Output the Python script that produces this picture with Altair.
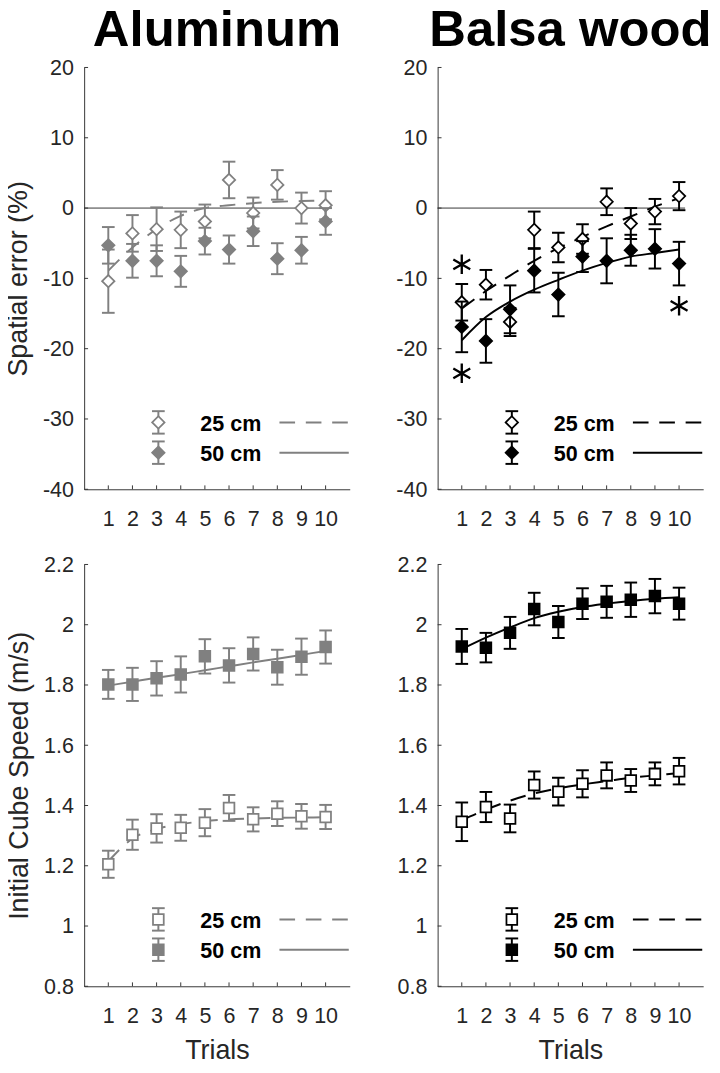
import altair as alt
import pandas as pd

# ---------------- data ----------------
TRIALS = list(range(1, 11))
COLUMN_TITLES = ["Aluminum", "Balsa wood"]
Y_TITLES = ["Spatial error (%)", "Initial Cube Speed (m/s)"]
X_TITLE = "Trials"
LEGEND_LABELS = ["25 cm", "50 cm"]
Y_TICKS_ERR = [-40, -30, -20, -10, 0, 10, 20]
Y_TICKS_SPD = [0.8, 1.0, 1.2, 1.4, 1.6, 1.8, 2.0, 2.2]
ZERO_LINE_X = [0, 10.25]

# Spatial error (%) - Aluminum
AL_ERR_25 = [-10.4, -3.6, -3.0, -3.1, -1.9, 4.0, -0.7, 3.3, 0.0, 0.4]
AL_ERR_25_SE = [4.5, 2.6, 3.1, 2.6, 2.4, 2.6, 2.2, 2.1, 2.2, 2.0]
AL_ERR_50 = [-5.3, -7.5, -7.5, -9.0, -4.7, -5.9, -3.3, -7.2, -6.0, -1.9]
AL_ERR_50_SE = [2.6, 2.4, 2.2, 2.2, 1.9, 2.0, 2.1, 2.2, 1.9, 1.9]
AL_ERR_25_FIT = [-8.9, -5.6, -3.0, -1.1, 0.0, 0.4, 0.7, 0.9, 1.0, 1.1]

# Spatial error (%) - Balsa wood
BA_ERR_25 = [-13.4, -10.9, -16.2, -3.1, -5.6, -4.4, 0.9, -2.2, -0.5, 1.7]
BA_ERR_25_SE = [2.6, 2.1, 2.0, 2.6, 2.1, 2.1, 1.9, 2.2, 1.8, 2.0]
BA_ERR_50 = [-16.9, -18.9, -14.4, -8.9, -12.3, -6.9, -7.5, -6.0, -5.8, -7.9]
BA_ERR_50_SE = [3.6, 3.1, 3.4, 3.1, 3.1, 2.2, 3.2, 2.2, 2.8, 3.1]
BA_ERR_25_FIT = [-14.3, -11.8, -9.6, -7.5, -5.7, -4.1, -2.6, -1.2, 0.2, 1.4]
BA_ERR_50_FIT = [-18.8, -15.5, -13.3, -11.6, -10.2, -8.9, -7.8, -6.9, -6.4, -5.9]
STAR_TRIALS = [1, 1, 10]
STAR_VALUES = [-8.0, -23.5, -13.9]

# Initial cube speed (m/s) - Aluminum
AL_SPD_25 = [1.205, 1.303, 1.324, 1.326, 1.343, 1.392, 1.354, 1.373, 1.364, 1.362]
AL_SPD_25_SE = [0.045, 0.050, 0.047, 0.043, 0.045, 0.043, 0.040, 0.041, 0.041, 0.040]
AL_SPD_50 = [1.802, 1.802, 1.822, 1.835, 1.895, 1.865, 1.903, 1.859, 1.894, 1.926]
AL_SPD_50_SE = [0.048, 0.055, 0.057, 0.060, 0.057, 0.057, 0.055, 0.058, 0.060, 0.055]
AL_SPD_25_FIT = [1.215, 1.290, 1.322, 1.338, 1.348, 1.354, 1.357, 1.359, 1.360, 1.361]
AL_SPD_50_FIT = [1.798, 1.811, 1.824, 1.836, 1.849, 1.862, 1.875, 1.887, 1.900, 1.913]

# Initial cube speed (m/s) - Balsa wood
BA_SPD_25 = [1.346, 1.395, 1.357, 1.468, 1.446, 1.472, 1.500, 1.483, 1.505, 1.514]
BA_SPD_25_SE = [0.064, 0.050, 0.046, 0.045, 0.046, 0.045, 0.043, 0.038, 0.038, 0.044]
BA_SPD_50 = [1.928, 1.924, 1.973, 2.052, 2.009, 2.070, 2.076, 2.083, 2.095, 2.070]
BA_SPD_50_SE = [0.058, 0.049, 0.053, 0.054, 0.053, 0.051, 0.053, 0.057, 0.057, 0.053]
BA_SPD_25_FIT = [1.351, 1.386, 1.416, 1.440, 1.457, 1.470, 1.481, 1.492, 1.500, 1.508]
BA_SPD_50_FIT = [1.919, 1.957, 1.991, 2.022, 2.043, 2.059, 2.070, 2.079, 2.086, 2.091]

# ---------------- style ----------------
GRAY = "#808080"
BLACK = "#000000"
AXIS_COLOR = "#333333"
TEXT_COLOR = "#262626"
FONT = "Liberation Sans"
W, H = 272, 432
DASH = [16, 11]
STAR_SHAPE = "M0,-1L0,1M-0.866,-0.5L0.866,0.5M-0.866,0.5L0.866,-0.5"
LEG_ROWS = [363.5, 394.5]
ONE = pd.DataFrame({"k": [0]})


def series_df(means, ses):
    return pd.DataFrame({
        "trial": TRIALS,
        "mean": means,
        "lo": [m - s for m, s in zip(means, ses)],
        "hi": [m + s for m, s in zip(means, ses)],
    })


def panel(yticks, color, shape, msize, s25, s50, fit25, fit50,
          title=None, ytitle=None, xtitle=None, zero=False, stars=False):
    xs = alt.Scale(domain=[0, 11], nice=False, zero=False)
    ys = alt.Scale(domain=[yticks[0], yticks[-1]], nice=False, zero=False)
    xaxis = alt.Axis(values=TRIALS, title=xtitle, labelExpr="'' + datum.value",
                     labelOverlap=False, labelFlush=False)
    yaxis = alt.Axis(values=yticks, title=ytitle, labelExpr="'' + datum.value",
                     labelOverlap=False, labelFlush=False)

    def X(f="trial"):
        return alt.X(f"{f}:Q", scale=xs, axis=xaxis)

    def Y(f):
        return alt.Y(f"{f}:Q", scale=ys, axis=yaxis)

    layers = []
    # inward ticks
    layers.append(alt.Chart(pd.DataFrame({"trial": TRIALS})).mark_rule(
        color=AXIS_COLOR, strokeWidth=1).encode(
        x=X(), y=alt.value(H), y2=alt.value(H - 4)))
    layers.append(alt.Chart(pd.DataFrame({"v": yticks})).mark_rule(
        color=AXIS_COLOR, strokeWidth=1).encode(
        y=Y("v"), x=alt.value(0), x2=alt.value(4)))
    if zero:
        layers.append(alt.Chart(pd.DataFrame({
            "x0": [ZERO_LINE_X[0]], "x1": [ZERO_LINE_X[1]], "y0": [0]})).mark_rule(
            color="#333333", strokeWidth=1).encode(x=X("x0"), x2="x1", y=Y("y0")))

    # fitted curves
    if fit25 is not None:
        layers.append(alt.Chart(pd.DataFrame({"trial": TRIALS, "fit": fit25})).mark_line(
            color=color, strokeWidth=2, strokeDash=DASH, interpolate="monotone").encode(
            x=X(), y=Y("fit")))
    if fit50 is not None:
        layers.append(alt.Chart(pd.DataFrame({"trial": TRIALS, "fit": fit50})).mark_line(
            color=color, strokeWidth=2, interpolate="monotone").encode(
            x=X(), y=Y("fit")))

    # error bars + markers
    for df, open_marker in ((series_df(*s25), True), (series_df(*s50), False)):
        base = alt.Chart(df)
        layers.append(base.mark_rule(color=color, strokeWidth=2).encode(
            x=X(), y=Y("lo"), y2="hi"))
        for f in ("lo", "hi"):
            layers.append(base.mark_tick(orient="horizontal", size=13, thickness=2,
                                         color=color, opacity=1).encode(x=X(), y=Y(f)))
        layers.append(base.mark_point(
            shape=shape, size=msize, filled=True,
            fill="white" if open_marker else color, stroke=color,
            strokeWidth=1.8, opacity=1).encode(x=X(), y=Y("mean")))

    if stars:
        layers.append(alt.Chart(pd.DataFrame({"trial": STAR_TRIALS, "v": STAR_VALUES})).mark_point(
            shape=STAR_SHAPE, size=400, filled=False, stroke=BLACK, strokeWidth=2.4,
            opacity=1).encode(x=X(), y=Y("v")))

    # legend drawn inside the panel
    for i, yy in enumerate(LEG_ROWS):
        open_marker = i == 0
        src = alt.Chart(ONE)
        layers.append(src.mark_rule(color=color, strokeWidth=2).encode(
            x=alt.value(76), y=alt.value(yy - 11.5), y2=alt.value(yy + 11.5)))
        for d in (-11.5, 11.5):
            layers.append(src.mark_rule(color=color, strokeWidth=2).encode(
                x=alt.value(69.5), x2=alt.value(82.5), y=alt.value(yy + d)))
        layers.append(src.mark_point(
            shape=shape, size=msize, filled=True,
            fill="white" if open_marker else color, stroke=color,
            strokeWidth=1.8, opacity=1).encode(x=alt.value(76), y=alt.value(yy)))
        layers.append(alt.Chart(pd.DataFrame({"label": [LEGEND_LABELS[i]]})).mark_text(
            align="left", baseline="middle", font=FONT, fontSize=22,
            fontWeight="bold", color=BLACK).encode(
            x=alt.value(119), y=alt.value(yy + 2), text="label:N"))
        line_kw = dict(color=color, strokeWidth=2)
        if open_marker:
            line_kw["strokeDash"] = DASH
        layers.append(src.mark_rule(**line_kw).encode(
            x=alt.value(200), x2=alt.value(271), y=alt.value(yy)))

    ch = alt.layer(*layers).properties(width=W, height=H)
    if title:
        ch = ch.properties(title=alt.TitleParams(
            text=title, fontSize=52, fontWeight="bold", font=FONT, color=BLACK,
            anchor="middle", offset=0))
    return ch


tl = panel(Y_TICKS_ERR, GRAY, "diamond", 160,
           (AL_ERR_25, AL_ERR_25_SE), (AL_ERR_50, AL_ERR_50_SE),
           AL_ERR_25_FIT, None, title=COLUMN_TITLES[0], ytitle=Y_TITLES[0], zero=True)
tr = panel(Y_TICKS_ERR, BLACK, "diamond", 160,
           (BA_ERR_25, BA_ERR_25_SE), (BA_ERR_50, BA_ERR_50_SE),
           BA_ERR_25_FIT, BA_ERR_50_FIT, title=COLUMN_TITLES[1], zero=True, stars=True)
bl = panel(Y_TICKS_SPD, GRAY, "square", 121,
           (AL_SPD_25, AL_SPD_25_SE), (AL_SPD_50, AL_SPD_50_SE),
           AL_SPD_25_FIT, AL_SPD_50_FIT, ytitle=Y_TITLES[1], xtitle=X_TITLE)
br = panel(Y_TICKS_SPD, BLACK, "square", 121,
           (BA_SPD_25, BA_SPD_25_SE), (BA_SPD_50, BA_SPD_50_SE),
           BA_SPD_25_FIT, BA_SPD_50_FIT, xtitle=X_TITLE)

chart = alt.concat(tl, tr, bl, br, columns=2, spacing={"row": 25, "column": 47}).properties(
    padding={"left": -3, "top": -16, "right": 0, "bottom": 0}
).configure_view(stroke=None).configure_axis(
    grid=False, ticks=False, tickSize=0,
    domainColor=AXIS_COLOR, domainWidth=1,
    labelFont=FONT, labelFontSize=22, labelColor=TEXT_COLOR,
    titleFont=FONT, titleFontSize=27.5, titleFontWeight="normal", titleColor=TEXT_COLOR,
).configure_axisY(labelPadding=11, titlePadding=10).configure_axisX(
    labelPadding=20, titlePadding=11)

chart.save("out.html", embed_options={"renderer": "svg", "actions": False})
